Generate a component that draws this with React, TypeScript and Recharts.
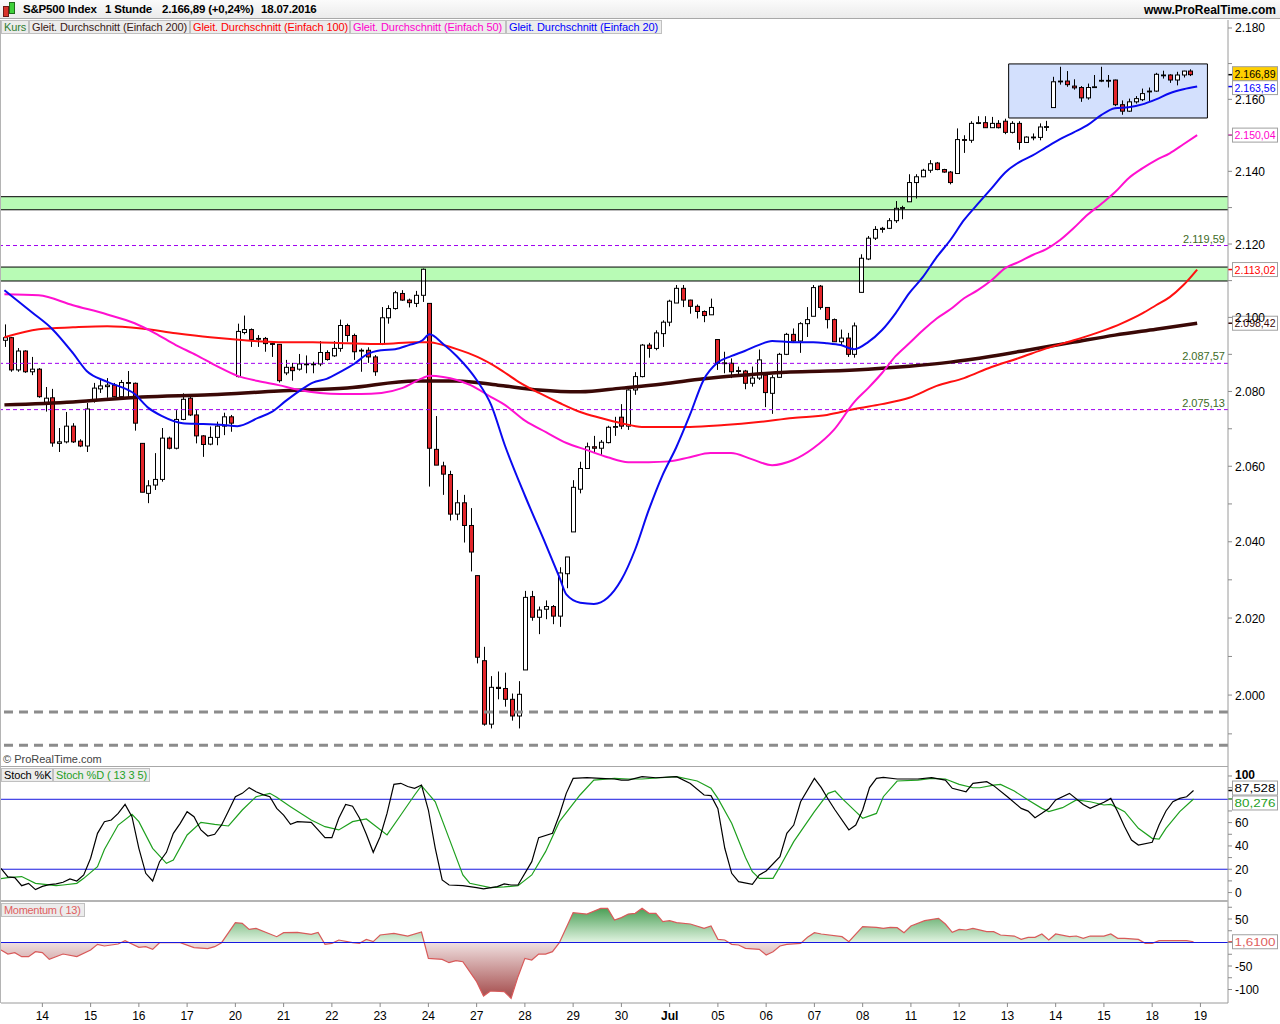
import React from 'react';
import { ComposedChart, Bar, Line, Area, XAxis, YAxis, ReferenceLine, ReferenceArea } from 'recharts';

const FONT = '"Liberation Sans", Arial, sans-serif';

// ---------- price data (hourly candles, 13.06.2016 - 18.07.2016) ----------
const opens = [
  2093.8, 2094.5, 2085.8, 2090.9, 2085.3, 2086.0, 2077.1, 2078.3, 2066.1, 2066.5,
  2070.7, 2066.7, 2065.4, 2077.5, 2080.7, 2081.3, 2081.7, 2078.6, 2082.4, 2082.2,
  2066.1, 2052.8, 2055.0, 2056.5, 2067.5, 2064.8, 2072.5, 2078.2, 2073.7, 2068.1,
  2065.9, 2067.7, 2070.7, 2073.2, 2084.0, 2095.9, 2096.7, 2094.3, 2094.3, 2092.9,
  2092.7, 2085.0, 2086.5, 2086.0, 2087.4, 2087.3, 2087.4, 2090.5, 2089.6, 2091.6,
  2097.8, 2095.1, 2091.0, 2091.1, 2089.3, 2092.8, 2099.9, 2102.4, 2106.5, 2104.7,
  2103.8, 2106.0, 2103.8, 2064.5, 2060.1, 2057.8, 2047.3, 2050.3, 2044.3, 2031.1,
  2008.9, 1992.5, 2002.0, 2001.7, 1998.9, 1994.6, 2006.5, 2025.6, 2020.2, 2022.3,
  2023.0, 2020.5, 2031.6, 2042.6, 2053.9, 2059.4, 2065.2, 2064.8, 2066.3, 2070.4,
  2073.1, 2070.7, 2080.4, 2084.0, 2092.5, 2091.6, 2095.6, 2098.7, 2103.9, 2107.9,
  2104.7, 2103.0, 2101.6, 2100.7, 2094.0, 2087.6, 2087.6, 2085.6, 2085.5, 2082.2,
  2083.6, 2084.4, 2079.5, 2083.8, 2090.0, 2095.4, 2093.6, 2098.3, 2100.3, 2108.5,
  2102.7, 2099.4, 2093.4, 2094.4, 2090.0, 2106.8, 2115.9, 2121.6, 2124.0, 2124.3,
  2126.4, 2129.9, 2131.6, 2136.9, 2138.5, 2140.3, 2142.3, 2140.5, 2139.8, 2139.4,
  2148.8, 2148.6, 2153.3, 2153.5, 2152.1, 2153.3, 2153.9, 2150.8, 2153.3, 2148.0,
  2149.5, 2149.4, 2152.3, 2157.7, 2165.0, 2165.1, 2163.7, 2163.3, 2160.4, 2163.4,
  2165.2, 2165.3, 2165.4, 2158.5, 2156.7, 2159.3, 2159.9, 2162.2, 2162.3, 2166.8,
  2166.8, 2165.4, 2166.8, 2167.9,
];
const highs = [
  2098.1, 2094.7, 2091.7, 2091.1, 2089.3, 2086.3, 2081.2, 2080.7, 2070.2, 2074.5,
  2071.5, 2067.2, 2076.9, 2082.3, 2083.6, 2083.6, 2082.3, 2083.1, 2085.5, 2082.4,
  2066.1, 2056.3, 2063.5, 2070.2, 2067.9, 2075.0, 2079.5, 2078.8, 2075.0, 2068.3,
  2070.6, 2071.9, 2074.3, 2073.7, 2098.3, 2100.5, 2097.0, 2095.2, 2094.7, 2093.1,
  2092.8, 2088.5, 2087.7, 2090.1, 2089.7, 2088.0, 2093.6, 2091.1, 2093.6, 2099.4,
  2098.3, 2095.6, 2091.6, 2091.9, 2089.8, 2102.8, 2103.3, 2107.2, 2107.4, 2105.1,
  2107.2, 2113.3, 2103.8, 2073.4, 2061.2, 2058.8, 2053.7, 2052.4, 2048.9, 2031.1,
  2012.5, 2004.9, 2006.1, 2005.8, 2000.4, 2003.6, 2027.1, 2027.1, 2023.0, 2024.6,
  2023.4, 2033.3, 2036.0, 2056.3, 2061.2, 2066.3, 2068.1, 2067.0, 2070.8, 2073.2,
  2076.6, 2080.6, 2085.2, 2092.8, 2093.1, 2096.5, 2099.2, 2104.8, 2108.8, 2108.8,
  2104.8, 2103.5, 2101.9, 2105.1, 2094.0, 2090.7, 2088.9, 2086.7, 2085.8, 2086.7,
  2091.3, 2084.9, 2084.4, 2090.4, 2095.8, 2097.0, 2098.7, 2102.8, 2108.8, 2108.8,
  2102.8, 2099.7, 2096.7, 2095.8, 2098.6, 2117.2, 2122.2, 2124.9, 2124.7, 2127.1,
  2131.8, 2130.5, 2139.2, 2139.2, 2140.7, 2143.1, 2142.6, 2140.7, 2140.1, 2151.9,
  2150.0, 2153.9, 2155.3, 2155.3, 2155.1, 2154.2, 2154.6, 2153.9, 2153.9, 2149.7,
  2150.5, 2153.3, 2154.0, 2166.3, 2169.1, 2167.9, 2165.6, 2163.7, 2164.4, 2166.8,
  2169.1, 2166.8, 2165.5, 2159.7, 2160.2, 2160.9, 2163.0, 2163.3, 2167.4, 2168.0,
  2167.0, 2167.7, 2168.0, 2168.4,
];
const lows = [
  2092.0, 2085.3, 2085.3, 2085.0, 2084.4, 2078.3, 2074.6, 2065.2, 2063.8, 2066.1,
  2066.2, 2065.1, 2063.8, 2077.0, 2079.6, 2078.3, 2078.5, 2078.4, 2078.3, 2069.5,
  2053.1, 2050.2, 2053.7, 2055.9, 2064.5, 2064.5, 2072.3, 2073.4, 2066.1, 2062.5,
  2065.6, 2065.6, 2068.3, 2069.2, 2083.8, 2095.4, 2092.0, 2092.0, 2090.7, 2089.3,
  2082.4, 2084.4, 2082.9, 2085.6, 2084.9, 2084.9, 2086.8, 2088.3, 2089.3, 2090.7,
  2093.4, 2088.5, 2085.3, 2087.7, 2084.2, 2092.5, 2098.3, 2102.1, 2104.5, 2102.7,
  2102.8, 2104.2, 2054.6, 2060.3, 2052.4, 2045.6, 2045.7, 2039.8, 2032.2, 2008.2,
  1992.1, 1991.4, 1998.9, 1997.0, 1993.4, 1991.4, 2006.5, 2019.3, 2015.8, 2019.7,
  2018.4, 2017.7, 2027.8, 2042.6, 2052.8, 2059.4, 2063.8, 2062.9, 2066.1, 2068.1,
  2069.9, 2069.7, 2079.1, 2083.8, 2089.1, 2091.1, 2092.0, 2097.6, 2103.9, 2102.8,
  2101.0, 2099.7, 2098.7, 2100.7, 2085.8, 2084.9, 2083.6, 2084.2, 2080.6, 2081.3,
  2083.1, 2075.8, 2074.0, 2083.8, 2089.8, 2093.4, 2090.4, 2094.7, 2100.3, 2102.1,
  2097.0, 2093.4, 2092.5, 2089.3, 2089.1, 2106.8, 2115.6, 2121.1, 2123.1, 2124.1,
  2125.8, 2126.8, 2131.6, 2132.5, 2138.4, 2139.6, 2140.3, 2139.6, 2136.4, 2139.4,
  2145.1, 2147.9, 2153.1, 2152.1, 2152.1, 2151.9, 2150.3, 2150.5, 2146.0, 2147.9,
  2148.6, 2148.6, 2151.2, 2157.7, 2164.1, 2163.5, 2162.7, 2159.3, 2159.9, 2163.3,
  2164.8, 2163.3, 2158.1, 2155.7, 2156.5, 2158.8, 2159.5, 2159.5, 2162.1, 2165.8,
  2164.6, 2163.9, 2166.1, 2166.5,
];
const closes = [
  2094.5, 2085.8, 2090.9, 2085.3, 2086.0, 2078.6, 2078.2, 2066.2, 2066.5, 2070.7,
  2066.5, 2065.4, 2075.3, 2080.9, 2081.5, 2081.7, 2078.6, 2082.4, 2082.3, 2071.5,
  2053.1, 2054.8, 2056.5, 2067.5, 2064.8, 2072.5, 2077.9, 2073.7, 2068.1, 2065.8,
  2067.7, 2070.7, 2073.2, 2071.5, 2096.2, 2096.7, 2094.0, 2094.1, 2092.9, 2092.7,
  2082.9, 2086.5, 2085.6, 2087.4, 2087.3, 2087.4, 2090.5, 2088.6, 2091.6, 2097.8,
  2095.1, 2090.7, 2091.1, 2089.3, 2085.3, 2099.9, 2102.4, 2106.7, 2104.7, 2104.0,
  2106.0, 2113.1, 2064.8, 2060.3, 2057.9, 2047.3, 2050.3, 2044.3, 2037.3, 2009.8,
  1992.5, 2002.0, 2001.7, 1998.9, 1994.6, 2000.2, 2025.4, 2020.2, 2022.1, 2023.0,
  2020.5, 2031.8, 2036.0, 2054.4, 2059.4, 2065.2, 2064.8, 2066.4, 2070.4, 2070.6,
  2070.7, 2080.4, 2084.0, 2092.5, 2091.6, 2095.8, 2098.7, 2104.4, 2107.9, 2104.7,
  2103.0, 2101.6, 2100.5, 2102.7, 2087.6, 2087.7, 2085.3, 2085.5, 2082.2, 2083.6,
  2088.5, 2079.7, 2083.7, 2090.0, 2095.4, 2093.6, 2098.3, 2099.4, 2108.1, 2102.7,
  2099.4, 2093.4, 2094.4, 2090.0, 2097.7, 2116.1, 2121.6, 2124.0, 2124.3, 2126.4,
  2129.8, 2130.0, 2136.9, 2138.5, 2140.3, 2142.1, 2140.5, 2139.8, 2136.9, 2148.8,
  2148.6, 2153.3, 2153.5, 2152.1, 2153.3, 2152.1, 2150.8, 2153.3, 2148.0, 2149.5,
  2149.4, 2152.3, 2152.4, 2164.9, 2165.1, 2164.1, 2163.2, 2160.4, 2163.3, 2163.5,
  2165.3, 2165.2, 2158.5, 2156.7, 2159.3, 2160.2, 2161.6, 2162.3, 2167.0, 2166.7,
  2165.4, 2166.8, 2167.9, 2166.89,
];

// ---------- moving averages: [bar index, value] ----------
const ma20Pts = [
  [0, 2107.4], [4, 2101.4], [7, 2096.8], [10, 2090.3], [12, 2085.5], [15, 2082.6], [19, 2079.3], [21, 2075.6],
  [23, 2073.4], [26, 2071.5], [29, 2071.3], [32, 2071.0], [34, 2070.7], [37, 2072.9], [39, 2074.5], [41, 2077.4],
  [43, 2080.1], [45, 2082.4], [47, 2083.4], [49, 2085.3], [51, 2087.4], [53, 2090.1], [55, 2091.1], [57, 2091.4],
  [59, 2092.5], [61, 2093.8], [62, 2095.4], [64, 2092.8], [66, 2089.5], [69, 2082.8], [71, 2076.4], [73, 2065.6],
  [76, 2051.9], [79, 2039.2], [81, 2030.5], [82, 2026.1], [84, 2024.0], [86, 2023.7], [88, 2025.3], [90, 2030.0],
  [92, 2037.9], [94, 2048.4], [96, 2057.6], [98, 2065.0], [100, 2073.7], [102, 2083.1], [104, 2087.7], [106, 2089.5],
  [108, 2090.9], [110, 2092.5], [112, 2093.6], [115, 2093.3], [118, 2093.3], [120, 2093.0], [122, 2092.5], [124, 2091.4],
  [126, 2093.3], [128, 2096.5], [130, 2101.1], [132, 2106.6], [134, 2111.0], [136, 2116.4], [138, 2121.1], [140, 2126.6],
  [142, 2131.0], [144, 2135.3], [146, 2139.7], [148, 2142.5], [150, 2144.4], [152, 2146.7], [154, 2148.9], [156, 2150.8],
  [158, 2152.8], [160, 2155.6], [162, 2157.5], [164, 2157.8], [166, 2158.6], [168, 2160.0], [170, 2161.7], [172, 2162.8],
  [174, 2163.56],
];
const ma50Pts = [
  [0, 2106.3], [5, 2106.0], [10, 2103.3], [15, 2100.8], [19, 2098.4], [22, 2095.7], [25, 2092.5], [28, 2089.8],
  [31, 2086.8], [34, 2084.2], [37, 2082.8], [40, 2081.7], [43, 2080.4], [46, 2079.6], [49, 2079.3], [52, 2079.3],
  [55, 2079.6], [58, 2080.9], [61, 2083.6], [62, 2084.2], [64, 2083.9], [66, 2083.1], [68, 2081.7], [71, 2078.5],
  [73, 2076.4], [76, 2072.1], [79, 2069.1], [82, 2066.2], [85, 2064.3], [88, 2062.4], [91, 2061.1], [94, 2061.1],
  [97, 2061.3], [100, 2062.4], [103, 2063.5], [106, 2063.5], [109, 2061.9], [112, 2060.3], [115, 2061.6], [118, 2064.8],
  [121, 2069.7], [124, 2077.2], [126, 2080.9], [128, 2084.9], [130, 2089.5], [132, 2093.0], [134, 2096.5], [136, 2099.7],
  [138, 2102.2], [140, 2105.2], [142, 2107.4], [144, 2110.1], [146, 2113.4], [148, 2115.1], [150, 2117.0], [152, 2118.6],
  [154, 2121.1], [156, 2124.4], [158, 2128.0], [160, 2131.0], [162, 2134.2], [164, 2138.1], [166, 2140.8], [168, 2143.1],
  [170, 2145.0], [172, 2147.5], [174, 2150.04],
];
const ma100Pts = [
  [0, 2094.6], [5, 2096.8], [10, 2097.3], [15, 2097.6], [20, 2097.0], [25, 2095.7], [30, 2094.6], [35, 2093.8],
  [40, 2093.3], [45, 2093.3], [50, 2093.0], [55, 2092.8], [60, 2093.3], [62, 2093.3], [64, 2092.5], [66, 2091.4],
  [69, 2089.3], [72, 2086.3], [75, 2082.6], [78, 2079.6], [81, 2076.9], [84, 2074.5], [87, 2072.9], [90, 2071.5],
  [93, 2070.5], [96, 2070.5], [100, 2070.5], [105, 2071.0], [110, 2071.8], [115, 2072.9], [120, 2073.7], [124, 2075.3],
  [128, 2076.6], [132, 2078.3], [136, 2081.5], [140, 2083.6], [144, 2086.6], [148, 2089.0], [152, 2091.6], [156, 2093.8],
  [160, 2096.2], [163, 2098.4], [166, 2101.1], [168, 2103.3], [170, 2105.5], [172, 2108.8], [174, 2113.02],
];
const ma200Pts = [
  [0, 2076.4], [10, 2077.2], [20, 2078.5], [30, 2079.1], [40, 2080.1], [50, 2080.9], [60, 2082.8], [66, 2082.8],
  [72, 2081.7], [78, 2080.4], [84, 2079.9], [90, 2080.9], [96, 2082.0], [102, 2083.4], [108, 2084.4], [114, 2085.2],
  [120, 2085.5], [126, 2086.0], [132, 2086.8], [138, 2087.9], [144, 2089.5], [150, 2091.4], [156, 2093.3], [162, 2095.2],
  [168, 2096.8], [174, 2098.42],
];

// ---------- Stochastic (13 3 5): [bar index, value] ----------
const stochKPts = [
  [0, 20.8], [1, 13.5], [2, 12.8], [3, 5.9], [4, 7.9], [5, 2.5], [6, 5.3], [7, 6.8], [8, 7.5], [9, 8.8],
  [10, 11.7], [11, 9.9], [12, 15.1], [13, 29.4], [14, 50.8], [15, 60.8], [16, 62.2], [17, 67.9], [18, 75.6], [19, 65.1],
  [20, 37.9], [21, 16.5], [22, 9.9], [23, 26.5], [24, 34.5], [25, 50.8], [26, 59.4], [27, 69.4], [28, 65.1], [29, 53.7],
  [30, 48.5], [31, 50.0], [32, 58.0], [33, 70.0], [34, 82.2], [35, 85.1], [36, 90.0], [37, 86.5], [38, 84.0], [39, 82.2],
  [40, 72.2], [41, 66.5], [42, 58.5], [43, 60.8], [45, 60.2], [46, 53.7], [47, 47.1], [48, 47.1], [49, 63.7], [50, 75.6],
  [51, 74.0], [52, 64.0], [53, 50.0], [54, 34.5], [55, 47.9], [56, 67.9], [57, 92.8], [58, 93.7], [59, 91.0], [60, 89.4],
  [61, 92.2], [62, 70.8], [63, 37.9], [64, 10.8], [65, 6.5], [67, 5.9], [69, 4.2], [70, 3.1], [72, 5.1], [73, 7.4],
  [74, 6.5], [75, 6.5], [77, 26.5], [78, 47.1], [80, 50.8], [81, 66.5], [82, 85.1], [83, 97.9], [85, 98.5], [87, 97.9],
  [89, 97.4], [90, 96.5], [91, 96.5], [93, 99.4], [95, 98.5], [98, 99.4], [100, 93.5], [102, 83.7], [103, 83.1], [104, 72.0],
  [105, 38.0], [106, 16.5], [107, 9.4], [109, 7.1], [110, 15.1], [111, 18.5], [113, 30.8], [114, 50.8], [115, 57.9], [116, 77.9],
  [118, 97.9], [119, 90.0], [120, 80.0], [121, 70.8], [123, 53.7], [124, 57.9], [125, 70.8], [126, 90.0], [127, 97.9], [128, 98.8],
  [130, 97.4], [133, 97.4], [135, 98.5], [137, 96.5], [138, 89.4], [140, 86.5], [141, 93.7], [143, 95.1], [144, 91.7], [146, 82.2],
  [148, 72.2], [149, 69.9], [150, 64.2], [151, 68.0], [152, 72.0], [153, 79.4], [155, 85.1], [157, 75.6], [158, 72.2], [160, 77.4],
  [161, 80.8], [162, 69.4], [163, 56.5], [164, 45.1], [165, 40.8], [167, 43.1], [168, 57.9], [169, 70.0], [170, 78.0], [171, 80.8],
  [172, 82.2], [173, 87.528],
];
const stochDPts = [
  [0, 12.0], [1, 12.8], [3, 13.7], [5, 7.9], [8, 5.9], [9, 6.5], [11, 7.9], [12, 12.2], [14, 22.2], [15, 37.0],
  [17, 57.9], [19, 67.1], [20, 60.8], [22, 37.9], [24, 25.1], [25, 27.9], [27, 49.4], [29, 60.2], [31, 58.5], [33, 57.1],
  [35, 70.8], [37, 82.2], [39, 85.1], [40, 81.7], [42, 73.7], [45, 62.2], [47, 56.5], [49, 53.7], [51, 60.8], [53, 63.1],
  [56, 49.4], [58, 66.5], [60, 83.7], [61, 91.7], [63, 77.9], [65, 46.5], [67, 15.1], [68, 8.0], [71, 4.2], [73, 4.8],
  [75, 5.9], [77, 15.1], [79, 35.1], [81, 60.8], [84, 83.7], [86, 96.5], [89, 97.9], [91, 97.4], [93, 97.4], [98, 99.4],
  [101, 95.7], [103, 89.4], [104, 80.8], [106, 59.4], [108, 30.0], [109, 17.9], [110, 12.2], [112, 12.2], [113, 22.2], [115, 43.7],
  [118, 69.4], [120, 85.1], [121, 87.1], [122, 80.8], [124, 69.4], [125, 63.7], [127, 67.9], [128, 82.2], [130, 95.7], [133, 96.5],
  [135, 97.9], [137, 97.4], [139, 92.8], [141, 89.9], [142, 89.9], [144, 92.2], [145, 92.8], [147, 87.1], [149, 79.4], [151, 72.2],
  [152, 69.4], [154, 72.8], [156, 79.4], [158, 77.9], [160, 75.1], [161, 75.6], [163, 69.4], [165, 55.1], [167, 46.5], [168, 45.9],
  [169, 55.1], [171, 69.4], [173, 80.276],
];

// ---------- Momentum (13): [bar index, value] ----------
const momentumPts = [
  [0, -16.0], [1, -24.5], [2, -21.6], [3, -30.1], [4, -30.1], [5, -19.5], [6, -21.6], [7, -35.8], [9, -24.5], [11, -30.1],
  [13, -16.0], [14, -3.9], [15, -7.4], [17, -3.2], [18, 3.9], [20, -10.3], [21, -8.9], [22, -14.5], [23, -0.4], [26, -0.4],
  [28, -11.0], [30, -13.1], [31, -8.9], [32, -0.4], [34, 42.2], [35, 40.8], [36, 28.0], [37, 30.1], [40, 12.4], [41, 20.9],
  [43, 21.6], [45, 17.4], [46, 21.6], [47, -3.9], [48, -1.8], [49, 5.3], [51, -0.4], [52, -1.8], [53, 6.7], [54, 1.8],
  [55, 16.0], [57, 19.5], [59, 13.8], [61, 22.3], [62, -33.7], [64, -35.8], [65, -42.9], [66, -38.7], [67, -40.8], [69, -83.3],
  [70, -113.8], [71, -103.2], [73, -104.6], [74, -118.8], [75, -72.7], [76, -33.7], [77, -37.2], [78, -24.5], [79, -24.5], [80, -19.5],
  [81, -0.4], [83, 63.5], [85, 60.6], [87, 72.7], [88, 72.7], [89, 47.9], [90, 53.0], [91, 60.6], [92, 62.1], [93, 72.7],
  [94, 62.1], [95, 62.1], [96, 44.3], [97, 46.5], [98, 42.2], [100, 39.4], [102, 30.1], [103, 35.1], [104, 6.7], [105, 5.3],
  [106, -3.9], [107, -5.3], [108, -12.4], [110, -14.5], [111, -26.6], [112, -19.5], [113, -7.4], [114, -3.9], [116, -1.8], [117, 11.0],
  [118, 20.9], [119, 18.1], [122, 12.4], [123, 1.8], [125, 33.7], [127, 32.3], [128, 30.1], [129, 32.3], [130, 31.6], [131, 20.9],
  [132, 35.1], [134, 46.5], [136, 51.4], [137, 39.4], [138, 21.6], [139, 28.0], [140, 26.6], [141, 30.1], [143, 23.0], [144, 23.0],
  [145, 16.0], [147, 13.8], [148, 6.7], [149, 11.0], [150, 11.0], [151, 18.1], [152, 5.3], [153, 18.1], [155, 12.4], [156, 13.8],
  [157, 8.9], [158, 13.8], [160, 13.8], [161, 18.1], [162, 8.9], [163, 8.9], [165, 6.7], [166, -1.8], [167, -1.8], [168, 3.9],
  [170, 3.9], [172, 3.9], [173, 1.61],
];

// ---------- axis / annotation values ----------
const dayStarts = [6, 13, 20, 27, 34, 41, 48, 55, 62, 69, 76, 83, 90, 97, 104, 111, 118, 125, 132, 139, 146, 153, 160, 167, 174];
const dayLabels = ['14', '15', '16', '17', '20', '21', '22', '23', '24', '27', '28', '29', '30', 'Jul', '05', '06', '07', '08', '11', '12', '13', '14', '15', '18', '19'];
const priceTicks = [1990, 2000, 2010, 2020, 2030, 2040, 2050, 2060, 2070, 2080, 2090, 2100, 2110, 2120, 2130, 2140, 2150, 2160, 2170, 2180];
const stochTicks = [0, 10, 20, 30, 40, 50, 60, 70, 80, 90, 100];
const momTicks = [-100, -75, -50, -25, 0, 25, 50, 75];
const levelValues = [2119.59, 2087.57, 2075.13];
const levelTexts = ['2.119,59', '2.087,57', '2.075,13'];
const supportValues = [1995.6, 1987.1];
const greenBands = [[2129.4, 2133.0], [2109.9, 2113.7]];
const boxRange = { x1: 147, x2: 175, y1: 2154.8, y2: 2169.9 };
const lastClose = 2166.89;
const lastMA20 = 2163.56;
const lastMA50 = 2150.04;
const lastMA100 = 2113.02;
const lastMA200 = 2098.42;
const lastK = 87.528;
const lastD = 80.276;
const lastMom = 1.61;

const PRICE_DOMAIN: [number, number] = [1981.5, 2182.25];
const STOCH_DOMAIN: [number, number] = [-8.1, 107.7];
const MOM_DOMAIN: [number, number] = [-128.7, 86.2];

// ---------- table ----------
const SLOTS = 179;
const rows: any[] = Array.from({ length: SLOTS }, (_, i) => ({
  i,
  o: i < opens.length ? opens[i] : null,
  h: i < highs.length ? highs[i] : null,
  l: i < lows.length ? lows[i] : null,
  c: i < closes.length ? closes[i] : null,
  ma20: null, ma50: null, ma100: null, ma200: null, k: null, d: null, mom: null,
}));
const put = (pts: number[][], key: string) => pts.forEach(([i, v]) => { rows[i][key] = v; });
put(ma20Pts, 'ma20');
put(ma50Pts, 'ma50');
put(ma100Pts, 'ma100');
put(ma200Pts, 'ma200');
put(stochKPts, 'k');
put(stochDPts, 'd');
put(momentumPts, 'mom');

const fmtThousands = (v: number) => {
  const s = Math.round(v).toString();
  return s.length > 3 ? s.slice(0, s.length - 3) + '.' + s.slice(s.length - 3) : s;
};

// ---------- shapes ----------
function Candle(props: any) {
  const { x, y, width, height, payload } = props;
  if (!payload || payload.o == null || y == null) return null;
  const { o, h, l, c } = payload;
  const top = Math.min(y, y + height);
  const bottom = Math.max(y, y + height);
  const lh = Math.log(h);
  const span = lh - Math.log(l);
  const py = (v: number) => (span <= 0 ? top : top + (bottom - top) * (lh - Math.log(v)) / span);
  const cx = Math.round(x + width / 2) + 0.5;
  const up = c >= o;
  const bt = py(Math.max(o, c));
  const bb = py(Math.min(o, c));
  return (
    <g>
      <line x1={cx} x2={cx} y1={top} y2={bottom} stroke="#000" strokeWidth={1} />
      <rect x={cx - 2} y={bt} width={4} height={Math.max(bb - bt, 0.8)} fill={up ? '#ffffff' : '#e3262b'} stroke="#000" strokeWidth={1} />
    </g>
  );
}

const makeTag = (text: string, color: string, bg: string, tickColor: string, dy = 0) => (p: any) => {
  const vb = p.viewBox || {};
  const x = (vb.x || 0) + (vb.width || 0);
  const y = (vb.y || 0) + dy;
  return (
    <g>
      <line x1={x} x2={x + 4} y1={vb.y || 0} y2={vb.y || 0} stroke={tickColor} strokeWidth={1.5} />
      <rect x={x + 4.5} y={y - 7} width={45} height={14} fill={bg} stroke="#a0a0a0" strokeWidth={1} />
      <text x={x + 6.5} y={y + 4.2} fontSize={11.5} fill={color} fontFamily={FONT} textLength={41} lengthAdjust="spacingAndGlyphs">{text}</text>
    </g>
  );
};

const makeLevelLabel = (text: string) => (p: any) => {
  const vb = p.viewBox || {};
  return (
    <text x={(vb.x || 0) + (vb.width || 0) - 3} y={(vb.y || 0) - 3} textAnchor="end" fontSize={11} fill="#3d6b1f" fontFamily={FONT}>
      {text}
    </text>
  );
};

function PriceTick(props: any) {
  const { x, y, payload } = props;
  const v = payload.value;
  const major = v % 20 === 0;
  return (
    <g>
      <line x1={x} x2={x + 4} y1={y} y2={y} stroke="#8a8a8a" />
      {major && (
        <text x={x + 7} y={y + 4.5} fontSize={12} fill="#000" fontFamily={FONT}>{fmtThousands(v)}</text>
      )}
    </g>
  );
}

function StochTick(props: any) {
  const { x, y, payload } = props;
  const v = payload.value;
  const major = v % 20 === 0 && v !== 80;
  return (
    <g>
      <line x1={x} x2={x + 4} y1={y} y2={y} stroke="#8a8a8a" />
      {major && (
        <text x={x + 7} y={y + (v === 100 ? 3 : 4.5)} fontSize={12} fontWeight={v === 100 ? 'bold' : 'normal'} fill="#000" fontFamily={FONT}>{v}</text>
      )}
    </g>
  );
}

function MomTick(props: any) {
  const { x, y, payload } = props;
  const v = payload.value;
  const major = v % 50 === 0 && v !== 0;
  return (
    <g>
      <line x1={x} x2={x + 4} y1={y} y2={y} stroke="#8a8a8a" />
      {major && (
        <text x={x + 7} y={y + 4.5} fontSize={12} fill="#000" fontFamily={FONT}>{v}</text>
      )}
    </g>
  );
}

function DayTick(props: any) {
  const { x, y, payload } = props;
  const idx = dayStarts.indexOf(payload.value);
  const label = idx >= 0 ? dayLabels[idx] : '';
  return (
    <g>
      <line x1={x} x2={x} y1={y} y2={y + 4} stroke="#8a8a8a" />
      <text x={x} y={y + 17} textAnchor="middle" fontSize={12} fontWeight={label === 'Jul' ? 'bold' : 'normal'} fill="#000" fontFamily={FONT}>
        {label}
      </text>
    </g>
  );
}

const MARGIN = { top: 0, right: 0, bottom: 0, left: 1 };

const boxStyle = (color: string, left: number, width: number, top: number, spacing = '-0.1px'): React.CSSProperties => ({
  position: 'absolute',
  left,
  top,
  width,
  height: 14,
  lineHeight: '13px',
  fontSize: 11,
  letterSpacing: spacing,
  color,
  background: '#ececec',
  border: '1px solid #c0c0c0',
  boxSizing: 'border-box',
  paddingLeft: 2,
  whiteSpace: 'nowrap',
  overflow: 'hidden',
  fontFamily: FONT,
});

const headerItem = (left: number): React.CSSProperties => ({
  position: 'absolute',
  left,
  top: 3,
  fontSize: 11.5,
  fontWeight: 'bold',
  color: '#000',
  whiteSpace: 'nowrap',
  letterSpacing: '-0.2px',
});

export default function App() {
  return (
    <div style={{ position: 'absolute', left: 0, top: 0, width: 1280, height: 1024, background: '#fff', fontFamily: FONT, overflow: 'hidden' }}>
      {/* header */}
      <div style={{ position: 'absolute', left: 0, top: 0, width: 1280, height: 19, background: 'linear-gradient(#fbfbfb, #ebebeb)', borderBottom: '1px solid #a8a8a8', boxSizing: 'border-box' }}>
        <div style={{ position: 'absolute', left: 3, top: 6, width: 4, height: 9, background: '#d9342b', border: '1px solid #6b1a16' }} />
        <div style={{ position: 'absolute', left: 9, top: 2, width: 4, height: 10, background: '#3fd13a', border: '1px solid #1f6b1c' }} />
        <div style={headerItem(23)}>S&amp;P500 Index</div>
        <div style={headerItem(105)}>1 Stunde</div>
        <div style={headerItem(162)}>2.166,89 (+0,24%)</div>
        <div style={headerItem(261)}>18.07.2016</div>
        <div style={{ position: 'absolute', right: 4, top: 3, fontSize: 12, fontWeight: 'bold', color: '#000' }}>www.ProRealTime.com</div>
      </div>

      {/* price panel */}
      <div style={{ position: 'absolute', left: 0, top: 20 }}>
        <ComposedChart width={1280} height={747} data={rows} margin={MARGIN} barCategoryGap={0}>
          <XAxis dataKey="i" type="category" hide />
          <YAxis
            orientation="right"
            type="number"
            scale="log"
            domain={PRICE_DOMAIN}
            allowDataOverflow
            ticks={priceTicks}
            interval={0}
            width={52}
            tickSize={0}
            tickMargin={0}
            axisLine={{ stroke: '#9a9a9a' }}
            tick={<PriceTick />}
          />
          {greenBands.map(([a, b], n) => (
            <ReferenceArea key={'band' + n} y1={a} y2={b} fill="#b8fbb5" fillOpacity={1} stroke="none" />
          ))}
          {greenBands.map(([a], n) => (
            <ReferenceLine key={'bl' + n} y={a} stroke="#000" strokeWidth={1} />
          ))}
          {greenBands.map(([, b], n) => (
            <ReferenceLine key={'bu' + n} y={b} stroke="#000" strokeWidth={1} />
          ))}
          <ReferenceArea x1={boxRange.x1} x2={boxRange.x2} y1={boxRange.y1} y2={boxRange.y2} fill="#d3e0fd" fillOpacity={1} stroke="#000" strokeWidth={1} />
          {levelValues.map((v, n) => (
            <ReferenceLine key={'lv' + n} y={v} stroke="#a000f0" strokeDasharray="4 3" strokeWidth={1} label={makeLevelLabel(levelTexts[n])} />
          ))}
          {supportValues.map((v, n) => (
            <ReferenceLine key={'sv' + n} y={v} stroke="#8c8c8c" strokeDasharray="9 6" strokeWidth={3} />
          ))}
          <Line dataKey="ma200" type="monotone" stroke="#3a0806" strokeWidth={3.5} dot={false} connectNulls isAnimationActive={false} />
          <Line dataKey="ma100" type="monotone" stroke="#ff1010" strokeWidth={2} dot={false} connectNulls isAnimationActive={false} />
          <Line dataKey="ma50" type="monotone" stroke="#ff10d0" strokeWidth={2} dot={false} connectNulls isAnimationActive={false} />
          <Line dataKey="ma20" type="monotone" stroke="#0a0af0" strokeWidth={2} dot={false} connectNulls isAnimationActive={false} />
          <Bar
            dataKey={(d: any) => (d.o == null ? null : [d.l, d.h])}
            shape={(p: any) => <Candle {...p} />}
            isAnimationActive={false}
          />
          <ReferenceLine y={lastMA200} stroke="none" label={makeTag('2.098,42', '#3a0806', '#ffffff', '#3a0806')} />
          <ReferenceLine y={lastMA100} stroke="none" label={makeTag('2.113,02', '#ff0000', '#ffffff', '#ff0000')} />
          <ReferenceLine y={lastMA50} stroke="none" label={makeTag('2.150,04', '#ff00cc', '#ffffff', '#ff00cc')} />
          <ReferenceLine y={lastMA20} stroke="none" label={makeTag('2.163,56', '#0000ff', '#ffffff', '#0000ff', 1)} />
          <ReferenceLine y={lastClose} stroke="none" label={makeTag('2.166,89', '#000000', '#ffd000', '#000000', -1)} />
        </ComposedChart>
      </div>

      {/* legend row */}
      <div style={boxStyle('#2f7d2f', 1, 28, 20)}>Kurs</div>
      <div style={boxStyle('#3a1a14', 29, 161, 20)}>Gleit. Durchschnitt (Einfach 200)</div>
      <div style={boxStyle('#ff0000', 190, 160, 20)}>Gleit. Durchschnitt (Einfach 100)</div>
      <div style={boxStyle('#ff00cc', 350, 156, 20)}>Gleit. Durchschnitt (Einfach 50)</div>
      <div style={boxStyle('#0000ff', 506, 156, 20)}>Gleit. Durchschnitt (Einfach 20)</div>
      <div style={{ position: 'absolute', left: 3, top: 753, fontSize: 11, color: '#444' }}>© ProRealTime.com</div>

      {/* stochastic panel */}
      <div style={{ position: 'absolute', left: 0, top: 767 }}>
        <ComposedChart width={1280} height={135} data={rows} margin={MARGIN}>
          <XAxis dataKey="i" type="category" hide />
          <YAxis
            orientation="right"
            type="number"
            domain={STOCH_DOMAIN}
            allowDataOverflow
            ticks={stochTicks}
            interval={0}
            width={52}
            tickSize={0}
            tickMargin={0}
            axisLine={{ stroke: '#9a9a9a' }}
            tick={<StochTick />}
          />
          <ReferenceLine y={80} stroke="#1818e0" strokeWidth={1} />
          <ReferenceLine y={20} stroke="#1818e0" strokeWidth={1} />
          <Line dataKey="d" type="linear" stroke="#1fa01f" strokeWidth={1.2} dot={false} connectNulls isAnimationActive={false} />
          <Line dataKey="k" type="linear" stroke="#000000" strokeWidth={1.2} dot={false} connectNulls isAnimationActive={false} />
          <ReferenceLine y={lastK} stroke="none" label={makeTag('87,528', '#000000', '#ffffff', '#000000', -2.5)} />
          <ReferenceLine y={lastD} stroke="none" label={makeTag('80,276', '#1fa01f', '#ffffff', '#1fa01f', 4)} />
        </ComposedChart>
      </div>
      <div style={boxStyle('#000000', 1, 52, 768)}>Stoch %K</div>
      <div style={boxStyle('#1fa01f', 53, 97, 768)}>Stoch %D ( 13 3 5)</div>

      {/* momentum panel */}
      <div style={{ position: 'absolute', left: 0, top: 902 }}>
        <ComposedChart width={1280} height={122} data={rows} margin={MARGIN}>
          <defs>
            <linearGradient id="momFill" x1="0" y1="0" x2="0" y2="101" gradientUnits="userSpaceOnUse">
              <stop offset="0" stopColor="#2f8f3c" />
              <stop offset="0.4" stopColor="#e2f4e2" />
              <stop offset="0.401" stopColor="#f0e0e0" />
              <stop offset="1" stopColor="#9c3c3c" />
            </linearGradient>
          </defs>
          <XAxis
            dataKey="i"
            type="category"
            height={21}
            ticks={dayStarts}
            interval={0}
            tickSize={0}
            tickMargin={0}
            axisLine={{ stroke: '#9a9a9a' }}
            tick={<DayTick />}
          />
          <YAxis
            orientation="right"
            type="number"
            domain={MOM_DOMAIN}
            allowDataOverflow
            ticks={momTicks}
            interval={0}
            width={52}
            tickSize={0}
            tickMargin={0}
            axisLine={{ stroke: '#9a9a9a' }}
            tick={<MomTick />}
          />
          <Area dataKey="mom" type="linear" baseValue={0} stroke="#d85a5a" strokeWidth={1.2} fill="url(#momFill)" fillOpacity={1} dot={false} connectNulls isAnimationActive={false} />
          <ReferenceLine y={0} stroke="#1818e0" strokeWidth={1} />
          <ReferenceLine y={lastMom} stroke="none" label={makeTag('1,6100', '#e06060', '#ffffff', '#e06060')} />
        </ComposedChart>
      </div>
      <div style={boxStyle('#e06060', 1, 84, 903, '-0.3px')}>Momentum ( 13)</div>

      {/* panel borders */}
      <div style={{ position: 'absolute', left: 0, top: 766, width: 1228, height: 1, background: '#a8a8a8' }} />
      <div style={{ position: 'absolute', left: 0, top: 900, width: 1228, height: 2, background: '#b4b4b4' }} />
      <div style={{ position: 'absolute', left: 0, top: 20, width: 1, height: 983, background: '#b4b4b4' }} />
    </div>
  );
}
